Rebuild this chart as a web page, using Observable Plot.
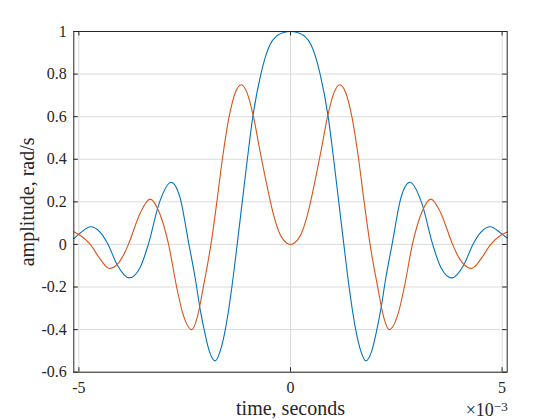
<!DOCTYPE html>
<html>
<head>
<meta charset="utf-8">
<script src="https://cdn.jsdelivr.net/npm/d3@7"></script>
<script src="https://cdn.jsdelivr.net/npm/@observablehq/plot@0.6"></script>
<style>
  html, body { margin: 0; padding: 0; background: #fff; }
  #chart svg { display: block; }
</style>
</head>
<body>
<div id="chart"></div>
<script>
// time in units of 1e-3 seconds (axis shows ×10^-3)
const blueTime = [-5.12,-4.97,-4.72,-4.50,-4.31,-4.10,-3.81,-3.55,-3.36,-3.10,-2.82,-2.61,-2.40,-2.25,-2.13,-2.03,-1.92,-1.78,-1.66,-1.54,-1.385,-1.26,-1.14,-1.02,-0.89,-0.70,-0.48,-0.32,-0.16,0,
  0.16,0.32,0.48,0.70,0.89,1.02,1.14,1.26,1.385,1.54,1.66,1.78,1.92,2.03,2.13,2.25,2.40,2.61,2.82,3.10,3.36,3.55,3.81,4.10,4.31,4.50,4.72,4.97,5.12];
const blueAmp = [0.027,0.053,0.083,0.058,0,-0.094,-0.157,-0.107,0,0.195,0.292,0.22,0,-0.16,-0.31,-0.41,-0.5,-0.547,-0.5,-0.4,-0.2,0,0.2,0.4,0.6,0.8,0.94,0.98,0.995,1,
  0.995,0.98,0.94,0.8,0.6,0.4,0.2,0,-0.2,-0.4,-0.5,-0.547,-0.5,-0.41,-0.31,-0.16,0,0.22,0.292,0.195,0,-0.107,-0.157,-0.094,0,0.058,0.083,0.053,0.03];

const redTime = [-5.12,-4.97,-4.73,-4.50,-4.28,-4.10,-3.91,-3.83,-3.55,-3.32,-3.10,-2.88,-2.69,-2.55,-2.33,-2.20,-2.06,-1.88,-1.74,-1.61,-1.45,-1.30,-1.165,-1.03,-0.875,-0.72,-0.56,-0.40,-0.24,-0.10,0,
  0.10,0.24,0.40,0.56,0.72,0.875,1.03,1.165,1.30,1.45,1.61,1.74,1.88,2.06,2.20,2.33,2.55,2.69,2.88,3.10,3.32,3.55,3.83,3.91,4.10,4.28,4.50,4.73,4.97,5.12];
const redAmp = [0.06,0.043,0,-0.068,-0.113,-0.095,-0.036,0,0.148,0.213,0.15,0,-0.2,-0.32,-0.40,-0.34,-0.2,0,0.2,0.4,0.6,0.715,0.75,0.714,0.6,0.438,0.28,0.139,0.044,0.008,0,
  0.008,0.044,0.139,0.28,0.438,0.6,0.714,0.75,0.715,0.6,0.4,0.2,0,-0.2,-0.34,-0.40,-0.32,-0.2,0,0.15,0.213,0.148,0,-0.036,-0.095,-0.113,-0.068,0,0.043,0.058];

const xTicks = [-5, 0, 5];
const xTickLabels = ["-5", "0", "5"];
const yTicks = [-0.6, -0.4, -0.2, 0, 0.2, 0.4, 0.6, 0.8, 1];
const yTickLabels = ["-0.6", "-0.4", "-0.2", "0", "0.2", "0.4", "0.6", "0.8", "1"];

const xLabel = "time, seconds";
const yLabel = "amplitude, rad/s";
const exponentBase = "×10";
const exponentPower = "−3";

const blueColor = "#0072BD";
const redColor = "#D95319";

const blueRows = blueTime.map((t, i) => ({t, v: blueAmp[i]}));
const redRows = redTime.map((t, i) => ({t, v: redAmp[i]}));

const W = 560, H = 420;
const mLeft = 73.3, mRight = 53.3, mTop = 31, mBottom = 48.3;
const innerH = H - mTop - mBottom;
const innerW = W - mLeft - mRight;
const tickLen = 4.5;
const serif = "'Liberation Serif', 'Times New Roman', serif";
const ink = "#262626";

const chart = Plot.plot({
  width: W,
  height: H,
  marginLeft: mLeft,
  marginRight: mRight,
  marginTop: mTop,
  marginBottom: mBottom,
  style: {fontFamily: serif, background: "#fff", color: ink},
  x: {domain: [-5.12, 5.12], label: null},
  y: {domain: [-0.6, 1], label: null},
  marks: [
    Plot.gridX(xTicks, {stroke: "#dbdbdb", strokeOpacity: 1}),
    Plot.gridY(yTicks, {stroke: "#dbdbdb", strokeOpacity: 1}),
    Plot.line(blueRows, {x: "t", y: "v", stroke: blueColor, strokeWidth: 1.1, curve: "monotone-x"}),
    Plot.line(redRows, {x: "t", y: "v", stroke: redColor, strokeWidth: 1.1, curve: "monotone-x"}),
    // inward ticks on all four sides
    Plot.tickX(xTicks, {x: d => d, stroke: ink, insetTop: innerH - tickLen}),
    Plot.tickX(xTicks, {x: d => d, stroke: ink, insetBottom: innerH - tickLen}),
    Plot.tickY(yTicks, {y: d => d, stroke: ink, insetRight: innerW - tickLen}),
    Plot.tickY(yTicks, {y: d => d, stroke: ink, insetLeft: innerW - tickLen}),
    Plot.frame({stroke: ink, strokeWidth: 1}),
    Plot.axisX(xTicks, {tickSize: 0, tickPadding: 9.5, fontSize: 16, fill: ink,
      tickFormat: (d, i) => xTickLabels[i]}),
    Plot.axisY(yTicks, {tickSize: 0, tickPadding: 7, fontSize: 16, fill: ink,
      tickFormat: (d, i) => yTickLabels[i]}),
    Plot.text([xLabel], {text: d => d, frameAnchor: "bottom", textAnchor: "middle", lineAnchor: "middle",
      dy: 36, fontSize: 20, fill: ink}),
    Plot.text([yLabel], {text: d => d, frameAnchor: "left", textAnchor: "middle", lineAnchor: "middle",
      dx: -46, rotate: -90, fontSize: 20, fill: ink}),
    Plot.text([exponentBase], {text: d => d, frameAnchor: "bottom-right", textAnchor: "end", lineAnchor: "middle",
      dx: 0.5, dy: 38, fontSize: 18, fill: ink, className: "exp-label"})
  ]
});
// append the superscript power to the exponent label as a real tspan
d3.select(chart).selectAll(".exp-label text").each(function() {
  const t = d3.select(this);
  t.attr("text-anchor", "end");
  t.text(null);
  t.append("tspan").text(exponentBase);
  t.append("tspan").attr("dy", "-0.4em").attr("font-size", 13).text(exponentPower);
});
document.getElementById("chart").appendChild(chart);
</script>
</body>
</html>
